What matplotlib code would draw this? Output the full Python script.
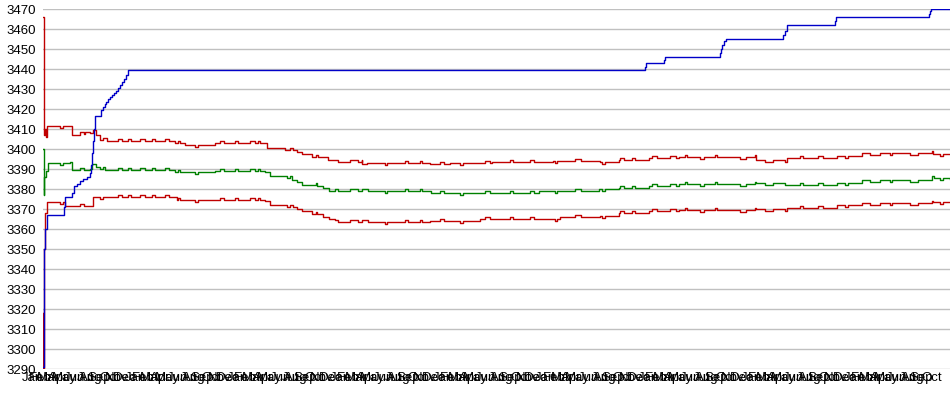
import matplotlib
matplotlib.use("Agg")
import matplotlib.pyplot as plt
import numpy as np
import pandas as pd

START = pd.Timestamp("2005-01-01")

# blue: running maximum
blue_days = [0, 2, 4, 7, 14, 75, 78, 103, 110, 121, 132, 142, 156, 167, 171, 174, 178, 181, 185, 187,
             206, 213, 220, 224, 231, 238, 245, 252, 260, 267, 274, 281, 288, 295, 302, 309,
             2141, 2144, 2151, 2208, 2212, 2219, 2407, 2411, 2414, 2422, 2429, 2432,
             2631, 2639, 2646, 2656, 2816, 2820, 2827, 3151, 3155, 3157, 3165, 3225]
blue_vals = [3291, 3330, 3350, 3360, 3367, 3371, 3376, 3378, 3381.5, 3382.5, 3384, 3385, 3386, 3388, 3392, 3398, 3404, 3410, 3416.5, 3416.5,
             3419.5, 3421, 3422.5, 3423.5, 3425, 3426, 3427, 3428, 3429, 3430.5, 3432, 3433.5, 3435, 3437, 3439.5, 3439.5,
             3441, 3443, 3443, 3444.5, 3446, 3446, 3448, 3450, 3452, 3454, 3455, 3455,
             3457, 3459, 3462, 3462, 3464, 3466, 3466, 3467.5, 3469, 3470, 3470, 3470]

# green: average
green_days = [0, 2, 5, 11, 18, 96, 103, 167, 174, 189, 221, 416, 469, 594, 612, 790, 807, 868, 885, 903, 921,
              974, 995, 1017, 1380, 1550, 1764, 1977, 2048, 2155, 2261, 2535, 2645, 2823, 2912, 3161, 3225]
green_vals = [3400, 3377, 3386, 3389, 3393, 3393.5, 3389.5, 3390, 3392.5, 3391, 3389.5, 3389.5, 3388.5, 3388.5, 3389, 3388.7, 3386.7, 3385.3, 3384.5, 3383.3, 3382,
              3381.7, 3380.3, 3379.2, 3377.8, 3378, 3379, 3380, 3380.7, 3381.5, 3382.5, 3382.8, 3382, 3383.2, 3384.5, 3385.7, 3385.2]

# red: upper band
upper_days = [0, 2, 4, 7, 11, 14, 96, 103, 132, 149, 167, 178, 189, 203, 228, 416, 469, 505, 612, 790, 796,
              860, 903, 921, 957, 978, 1014, 1038, 1135, 1152, 1376, 1447, 1597, 1813, 1980, 2048, 2155, 2261, 2535, 2645, 2823, 2912, 3165, 3225]
upper_vals = [3466, 3440, 3407, 3410, 3406, 3411.5, 3411.5, 3407, 3407.5, 3408.5, 3408, 3409.5, 3407, 3405.5, 3404, 3404, 3403, 3402, 3403, 3402.8, 3400.3,
              3399.5, 3398.3, 3397.5, 3396.2, 3395.8, 3394.5, 3393.7, 3392.3, 3393, 3392.3, 3393, 3393.5, 3394, 3393.7, 3394.5, 3395.3, 3395.8, 3394.5, 3395.3, 3396.7, 3397.8, 3397.3, 3397.3]

# red: lower band
lower_days = [0, 1, 2, 7, 14, 71, 78, 174, 178, 462, 476, 790, 807, 868, 903, 921, 957, 974, 995, 1017, 1038,
              1376, 1554, 1838, 1980, 2048, 2155, 2261, 2535, 2645, 2823, 2912, 3165, 3225]
lower_vals = [3318, 3290, 3350, 3368, 3373.5, 3373.5, 3371.5, 3371.5, 3376, 3376, 3374.5, 3374.2, 3372, 3370.8, 3370, 3369.2, 3367.5, 3367.3, 3366.2, 3365, 3363.7,
              3364, 3365, 3366, 3366.7, 3367.8, 3369, 3369.5, 3370.2, 3370.3, 3372, 3373.2, 3373.7, 3373.7]

# short wiggles shared by the three band lines (start day, length in days, size)
blip_days = [60, 132, 203, 267, 302, 345, 388, 434, 480, 541, 629, 683, 736, 765, 878, 971, 1038, 1092, 1134, 1216,
             1287, 1341, 1412, 1483, 1572, 1661, 1732, 1821, 1892, 1988, 2052, 2094, 2165, 2230, 2283, 2336, 2390,
             2479, 2532, 2567, 2639, 2692, 2756, 2852, 2941, 3012, 3083, 3161, 3190]
blip_lens = [11, 14, 11, 14, 11, 18, 11, 14, 7, 11, 14, 11, 18, 7, 11, 7, 11, 28, 21, 7,
             11, 7, 14, 11, 18, 11, 14, 7, 21, 11, 14, 11, 18, 21, 7, 14, 7,
             21, 11, 28, 7, 11, 18, 11, 36, 7, 28, 7, 11]
blip_size = [-1, 1, -1, 1, 1, 1, 1, 1, 1, -1, 1, 1, 1, 1, 1, 1, 1, 1, 1, -1,
             1, 1, 1, -1, 1, 1, 1, -1, 1, -1, 1, 1, 1, 1, 1, -1, 1,
             -1, 1, -1, -1, 1, 1, -1, -1, -1, -1, 1, -1]


def with_blips(days, vals):
    days = np.array(days)
    vals = np.array(vals, dtype=float)
    pts = dict(zip(days.tolist(), vals.tolist()))
    for d, w, dv in zip(blip_days, blip_lens, blip_size):
        i = np.searchsorted(days, d, side='right') - 1
        j = np.searchsorted(days, d + w, side='right') - 1
        pts[d] = vals[i] + dv
        pts[d + w] = vals[j]
    keys = sorted(pts)
    return keys, [pts[k] for k in keys]


def to_dates(days):
    return START + pd.to_timedelta(np.array(days), unit="D")


plt.rcParams['font.family'] = ['Liberation Sans', 'DejaVu Sans']
fig = plt.figure(figsize=(9.5, 3.95), dpi=100)
ax = fig.add_axes([43 / 950, 26 / 395, 907 / 950, 360 / 395])

d, v = with_blips(upper_days, upper_vals)
ax.plot(to_dates(d), v, drawstyle='steps-post', color='#c00000', lw=1)
d, v = with_blips(green_days, green_vals)
ax.plot(to_dates(d), v, drawstyle='steps-post', color='#008000', lw=1)
d, v = with_blips(lower_days, lower_vals)
ax.plot(to_dates(d), v, drawstyle='steps-post', color='#c00000', lw=1)
ax.plot(to_dates(blue_days), blue_vals, drawstyle='steps-post', color='#0000c8', lw=1)

ax.set_ylim(3290, 3470)
ax.set_yticks(np.arange(3290, 3471, 10))
ax.set_xlim(to_dates([0])[0], to_dates([3225])[0])

months = pd.date_range(START, to_dates([3225])[0], freq='MS')
ax.set_xticks(months)
ax.set_xticklabels([m.strftime('%b') for m in months], ha='right')

ax.grid(axis='y', color='#c0c0c0', lw=1)
ax.set_axisbelow(True)
for s in ax.spines.values():
    s.set_visible(False)
ax.tick_params(axis='both', length=0, labelsize=9.5, colors='black')
ax.tick_params(axis='y', pad=5)
ax.tick_params(axis='x', pad=2)

fig.savefig("out.png", dpi=100)
